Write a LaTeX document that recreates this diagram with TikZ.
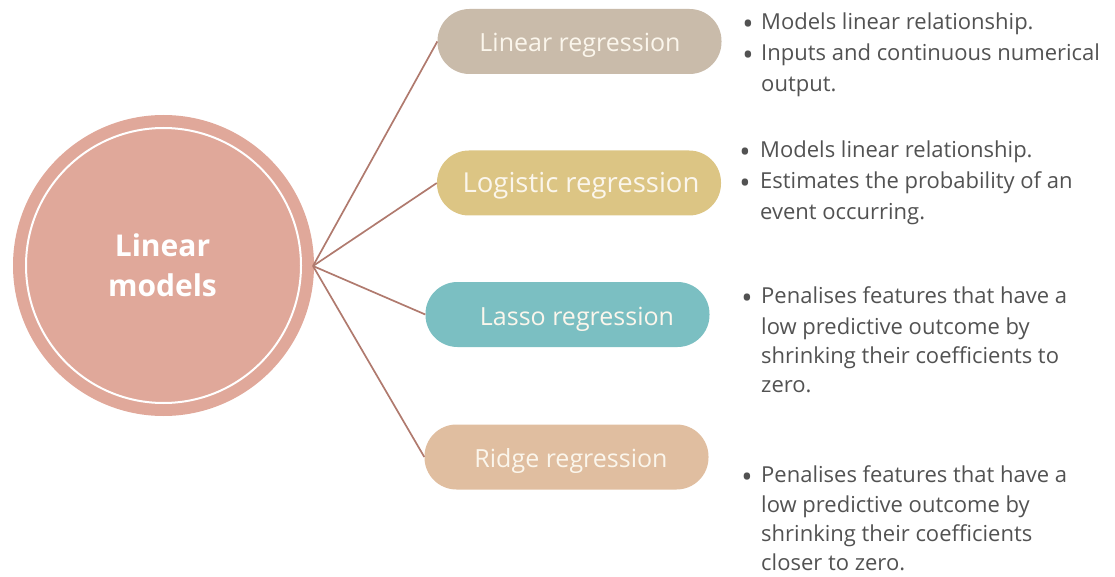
\documentclass[tikz,border=0pt]{standalone}
\usepackage{fontspec}
\setmainfont{Open Sans}
\definecolor{circfill}{HTML}{E0A89A}
\definecolor{linkcol}{HTML}{B07A6E}
\definecolor{pilla}{HTML}{C9BBAA}
\definecolor{pillb}{HTML}{DCC584}
\definecolor{pillc}{HTML}{7BBFC2}
\definecolor{pilld}{HTML}{E0BEA0}
\definecolor{pilltext}{HTML}{FBF6EC}
\definecolor{bodytext}{HTML}{525252}
\tikzset{
  pill/.style={draw=none, rectangle, rounded corners=32pt, minimum width=284pt, minimum height=65pt, inner sep=0pt},
  pilllabel/.style={anchor=base, inner sep=0pt, text=pilltext, font=\fontsize{25}{30}\selectfont},
  link/.style={draw=linkcol, line width=1.7pt},
  bul/.style={anchor=base, inner sep=0pt, text=bodytext, font=\fontsize{30}{30}\selectfont},
  line/.style={anchor=base west, inner sep=0pt, text=bodytext, font=\fontsize{22}{30}\selectfont},
}
\begin{document}
\begin{tikzpicture}[x=1pt, y=-1pt]
\useasboundingbox (0,0) rectangle (1115,577);
% central circle
\node[circle, fill=circfill, minimum size=301pt, inner sep=0pt] (c) at (163.5,265.5) {};
\draw[white, line width=2pt] (c.center) circle[radius=137.5];
\node[anchor=base, inner sep=0pt, text=white, font=\fontsize{30}{40}\selectfont\bfseries] (ct1) at (162.5,256) {Linear};
\node[anchor=base, inner sep=0pt, text=white, font=\fontsize{30}{40}\selectfont\bfseries] (ct2) at (162.5,296) {models};
% pills
\node[pill, fill=pilla] (p1) at (579.5,41.5) {};
\node[pill, fill=pillb] (p2) at (579,183) {};
\node[pill, fill=pillc] (p3) at (567.5,314.5) {};
\node[pill, fill=pilld] (p4) at (566.5,457) {};
\node[pilllabel] (l1) at (580,52) {Linear regression};
\node[pilllabel, font=\fontsize{27.5}{32}\selectfont] (l2) at (581,193) {Logistic regression};
\node[pilllabel] (l3) at (577,325) {Lasso regression};
\node[pilllabel] (l4) at (571,467) {Ridge regression};
% connectors
\coordinate (hub) at (313,266);
\draw[link] (hub) -- (p1.west);
\draw[link] (hub) -- (p2.west);
\draw[link] (hub) -- (p3.west);
\draw[link] (hub) -- (p4.west);
% block 1
\node[bul] (b1a) at (748,35) {•};
\node[line] (t1a) at (761,30) {Models linear relationship.};
\node[bul] (b1b) at (748,66) {•};
\node[line] (t1b) at (761,61) {Inputs and continuous numerical};
\node[line] (t1c) at (761,92) {output.};
% block 2
\node[bul] (b2a) at (745,163) {•};
\node[line] (t2a) at (760,158) {Models linear relationship.};
\node[bul] (b2b) at (745,194) {•};
\node[line] (t2b) at (760,189) {Estimates the probability of an};
\node[line] (t2c) at (760,220) {event occurring.};
% block 3
\node[bul] (b3a) at (747,308) {•};
\node[line] (t3a) at (761,303) {Penalises features that have a};
\node[line] (t3b) at (761,334) {low predictive outcome by};
\node[line] (t3c) at (761,363) {shrinking their coefficients to};
\node[line] (t3d) at (761,392) {zero.};
% block 4
\node[bul] (b4a) at (747,487) {•};
\node[line] (t4a) at (761,482) {Penalises features that have a};
\node[line] (t4b) at (761,512) {low predictive outcome by};
\node[line] (t4c) at (761,541) {shrinking their coefficients};
\node[line] (t4d) at (761,570) {closer to zero.};
\end{tikzpicture}
\end{document}
